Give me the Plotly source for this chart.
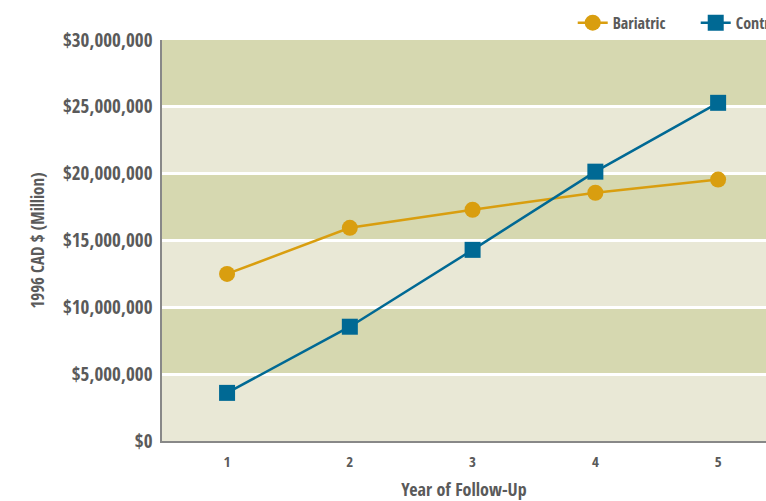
import plotly.graph_objects as go

years = [1, 2, 3, 4, 5]
bariatric = [12500000, 15950000, 17300000, 18570000, 19560000]
control = [3600000, 8550000, 14300000, 20150000, 25300000]
y_ticks = [0, 5000000, 10000000, 15000000, 20000000, 25000000, 30000000]
dark_bands = [(5000000, 10000000), (15000000, 20000000), (25000000, 30000000)]

FONT = "Open Sans Condensed, DejaVu Sans Condensed, sans-serif"
TXT = "#5a5a5a"

fig = go.Figure()
fig.add_trace(go.Scatter(x=years, y=bariatric, name="Bariatric", mode="lines+markers",
                         line=dict(color="#d99e0f", width=2.5),
                         marker=dict(symbol="circle", size=16, color="#d99e0f")))
fig.add_trace(go.Scatter(x=years, y=control, name="Control", mode="lines+markers",
                         line=dict(color="#006994", width=2.5),
                         marker=dict(symbol="square", size=16, color="#006994")))

for lo, hi in dark_bands:
    fig.add_shape(type="rect", xref="paper", yref="y", x0=0, x1=1, y0=lo, y1=hi,
                  fillcolor="#d6d8b0", line=dict(width=0), layer="below")

fig.update_layout(
    width=766, height=501,
    margin=dict(l=162, r=0, t=40, b=60, autoexpand=False),
    paper_bgcolor="white", plot_bgcolor="#e9e8d6",
    font=dict(family=FONT, color=TXT),
    showlegend=True,
    legend=dict(orientation="h", x=0.68, xanchor="left", y=1.043, yanchor="middle",
                font=dict(size=16, family=FONT, color=TXT), bgcolor="rgba(0,0,0,0)",
                entrywidth=78, itemsizing="trace"),
    xaxis=dict(range=[0.47, 5.39], tickmode="array", tickvals=years,
               ticktext=[str(v) for v in years], showgrid=False, zeroline=False,
               showline=True, linecolor="#888888", linewidth=1.5, ticks="",
               ticklabelstandoff=6,
               tickfont=dict(size=15, family=FONT, color=TXT),
               title=dict(text="Year of Follow-Up", font=dict(size=18, family=FONT, color=TXT),
                          standoff=14)),
    yaxis=dict(range=[0, 30000000], tickmode="array", tickvals=y_ticks,
               ticktext=["${:,}".format(v) for v in y_ticks],
               showgrid=True, gridcolor="white", gridwidth=2.5, zeroline=False,
               showline=True, linecolor="#888888", linewidth=1.5, ticks="",
               ticklabelstandoff=4,
               tickfont=dict(size=19, family=FONT, color=TXT),
               title=dict(text="1996 CAD $ (Million)", font=dict(size=17, family=FONT, color=TXT),
                          standoff=14)),
)

fig.write_html("out.html", config={"displayModeBar": False},
               post_script="document.body.style.margin='0';")
